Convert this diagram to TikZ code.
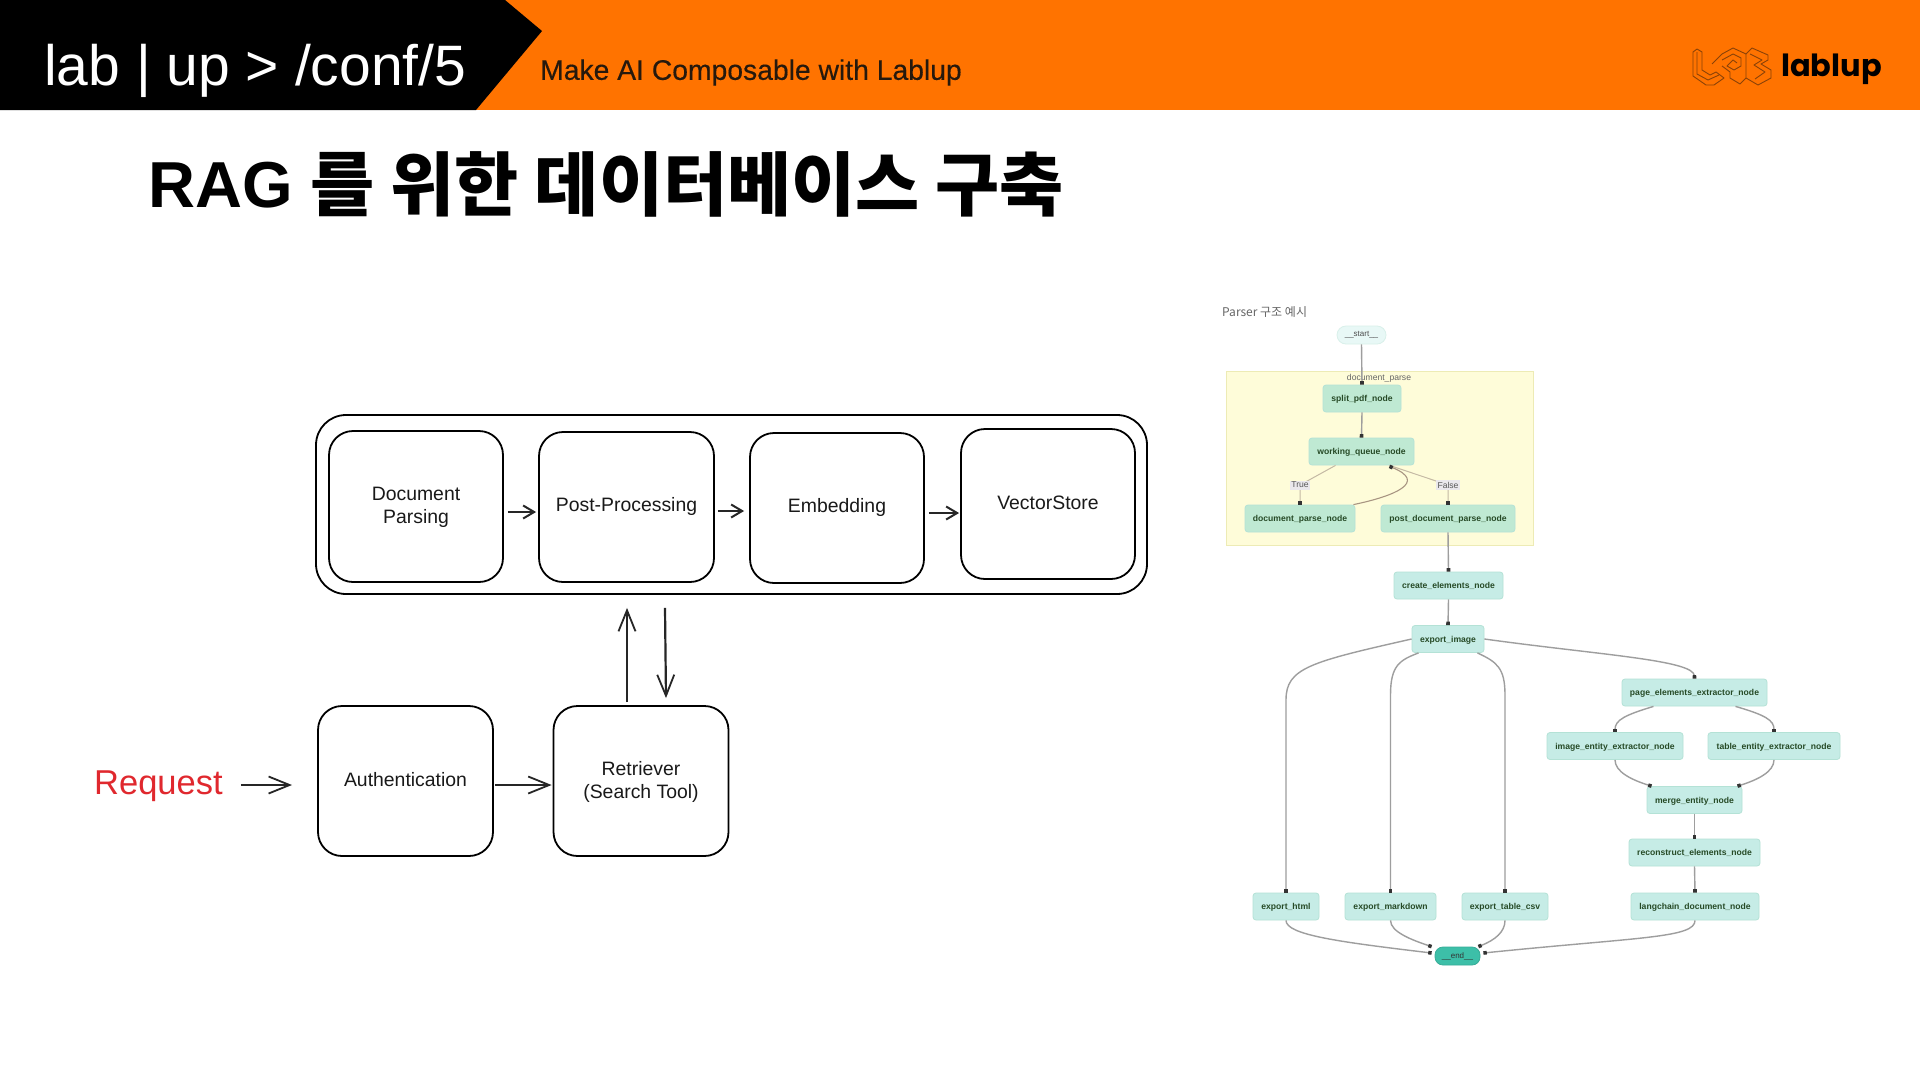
\documentclass[tikz,border=0pt]{standalone}
\usepackage{fontspec}
\setmainfont{Liberation Sans}
\newfontfamily\krfont{Noto Sans CJK KR}
\newfontfamily\krbold{Noto Sans CJK KR Bold}
\newfontfamily\logofont{Poppins}
\usetikzlibrary{arrows.meta,calc}
\definecolor{bannerorange}{HTML}{FF7300}
\definecolor{nodegreen}{HTML}{BFE9D3}
\definecolor{nodeteal}{HTML}{C6ECE6}
\definecolor{nodeedge}{HTML}{B4E2D6}
\definecolor{startfill}{HTML}{E8F8F6}
\definecolor{endfill}{HTML}{3DBFA8}
\definecolor{paneyellow}{HTML}{FEFCD9}
\definecolor{paneedge}{HTML}{EDEBB5}
\definecolor{flowgrey}{HTML}{9E9E9E}
\definecolor{labelgrey}{HTML}{EAE8EC}
\definecolor{reqred}{HTML}{E0282E}
\definecolor{logoline}{HTML}{8A4208}
\tikzset{
  sk/.style={draw=black,line width=1.8pt,rounded corners=24pt,fill=white,inner sep=0pt},
  sktext/.style={font=\fontsize{19.4}{23}\selectfont,align=center,inner sep=0pt,text=black!90},
  skshort/.style={draw=black!85,line width=2.4pt,-{Straight Barb[length=11pt,width=13pt,line width=2pt]}},
  sklong/.style={draw=black!85,line width=2.2pt,-{Straight Barb[length=21pt,width=17pt,line width=1.8pt]}},
  pnode/.style={draw=nodeedge,line width=.8pt,rounded corners=3pt,inner sep=0pt,minimum height=27pt,text height=7pt,text depth=.8pt,font=\bfseries\fontsize{8.6}{10}\selectfont,text=black!80!green!70!gray},
  gn/.style={pnode,fill=nodegreen},
  tn/.style={pnode,fill=nodeteal},
  flow/.style={draw=flowgrey,line width=1.4pt,-{Square[length=3.4pt,width=3.6pt,black!80]}},
  flowlight/.style={draw=flowgrey!60!paneyellow!85!brown,line width=1pt,-{Square[length=3.4pt,width=3.6pt,black!80]}},
  cond/.style={fill=labelgrey,inner sep=1.5pt,font=\fontsize{8.6}{10}\selectfont,text=black!65},
  logostroke/.style={draw=logoline,line width=.9pt,line join=round},
}
\begin{document}
\begin{tikzpicture}[x=1pt,y=-1pt]
\useasboundingbox (0,0) rectangle (1920,1080);
\fill[white] (0,0) rectangle (1920,1080);
% banner
\fill[bannerorange] (0,0) rectangle (1920,110);
\fill[black] (0,0) -- (505,0) -- (542,31) -- (476,110) -- (0,110) -- cycle;
\node[anchor=base west,text=white,inner sep=0pt,font=\fontsize{57}{60}\selectfont] (brand) at (44,85) {lab | up > /conf/5};
\node[anchor=west,text=black!80!brown,inner sep=0pt,font=\fontsize{28.3}{30}\selectfont\addfontfeature{FakeBold=0.3}] (motto) at (540,72.5) {Make AI Composable with Lablup};
% logo
\draw[logostroke] (1693,52) -- (1697,49) -- (1702,52) -- (1702,70) -- (1710,75) -- (1716,72) -- (1724,78) -- (1714,85) -- (1706,85) -- (1693,76) -- cycle;
\draw[logostroke] (1697,52) -- (1697,74) -- (1708,80) -- (1719,75);
\draw[logostroke] (1712,64) -- (1722,54) -- (1733,48) -- (1746,54) -- (1746,78) -- (1740,84) -- (1730,78) -- (1730,72) -- (1722,66);
\draw[logostroke] (1722,60) -- (1733,54) -- (1741,58) -- (1741,66) -- (1734,70) -- (1727,66) -- (1733,60) -- (1737,63);
\draw[logostroke] (1746,54) -- (1752,48) -- (1768,55) -- (1768,60) -- (1761,64) -- (1771,70) -- (1771,78) -- (1758,85) -- (1746,78);
\draw[logostroke] (1750,54) -- (1762,60) -- (1754,65) -- (1765,72) -- (1755,79);
% brand name
\node[anchor=west,inner sep=0pt,text=black,font=\logofont\bfseries\fontsize{30.5}{33}\selectfont] (brandname) at (1781,69) {lablup};
% title
\node[anchor=base west,inner sep=0pt,font=\bfseries\fontsize{65}{70}\selectfont] (title) at (148,207) {RAG {\krbold\fontsize{69.7}{75}\selectfont\raisebox{-3pt}{를 위한 데이터베이스 구축}}};
% pipeline
\node[sk,rounded corners=30pt,minimum width=831pt,minimum height=179pt] (store) at (731.5,504.5) {};
\node[sk,minimum width=174pt,minimum height=151pt] (parse) at (416,506.5) {};
\node[sktext] (parsetxt) at (416,507.5) {Document\\Parsing};
\node[sk,minimum width=175pt,minimum height=150pt] (post) at (626.5,507) {};
\node[sktext] (posttxt) at (626.5,506) {Post-Processing};
\node[sk,minimum width=174pt,minimum height=150pt] (embed) at (837,508) {};
\node[sktext] (embedtxt) at (837,507.5) {Embedding};
\node[sk,minimum width=174pt,minimum height=150pt] (vector) at (1048,504) {};
\node[sktext] (vectortxt) at (1048,503) {VectorStore};
\draw[skshort] ($(parse.east)+(4,5.5)$) -- ($(post.west)+(-2,5)$);
\draw[skshort] ($(post.east)+(3,4)$) -- ($(embed.west)+(-5,3)$);
\draw[skshort] ($(embed.east)+(4,5)$) -- ($(vector.west)+(-1,9)$);
% lower row
\node[sk,minimum width=175pt,minimum height=150pt] (auth) at (405.5,781) {};
\node[sktext] (authtxt) at (405.5,780) {Authentication};
\node[sk,minimum width=175pt,minimum height=150pt] (retr) at (641,781) {};
\node[sktext] (retrtxt) at (641,781.5) {Retriever\\(Search Tool)};
\node[anchor=west,inner sep=0pt,text=reqred,font=\fontsize{34.5}{36}\selectfont] (req) at (94,786) {Request};
\coordinate (reqend) at (292,785);
\draw[sklong] ($(req.east)+(18,-1)$) -- (reqend);
\draw[sklong] ($(auth.east)+(1,4)$) -- ($(retr.west)+(-1,4)$);
\draw[sklong] ($(retr.north)+(-14,-3)$) -- ($(store.south)+(-104.5,13)$);
\draw[sklong] ($(store.south)+(-66.5,13)$) -- ($(retr.north)+(25,-7)$);
% parser graph
\node[anchor=west,inner sep=0pt,text=black!60,font=\krfont\fontsize{12}{13}\selectfont] (ptitle) at (1222,312) {Parser 구조 예시};
\node[draw=paneedge,fill=paneyellow,line width=1pt,inner sep=0pt,minimum width=307pt,minimum height=174pt] (pane) at (1379.5,458) {};
\node[inner sep=0pt,text=black!60,font=\fontsize{8.6}{10}\selectfont] (panelabel) at (1379,378) {document\_parse};
\node[draw=nodeedge!50,fill=startfill,line width=.8pt,rounded corners=9pt,inner sep=0pt,minimum width=49pt,minimum height=18pt,font=\fontsize{8}{10}\selectfont,text=black!70] (start) at (1361.5,335) {\_\_start\_\_};
\node[gn,minimum width=78pt] (split) at (1362,398.5) {split\_pdf\_node};
\node[gn,minimum width=105pt] (queue) at (1361.5,451.5) {working\_queue\_node};
\node[gn,minimum width=110pt] (docn) at (1300,518.5) {document\_parse\_node};
\node[gn,minimum width=134pt] (postn) at (1448,518.5) {post\_document\_parse\_node};
\node[tn,minimum width=109pt] (create) at (1448.5,585.5) {create\_elements\_node};
\node[tn,minimum width=72pt] (image) at (1448,639) {export\_image};
\node[tn,minimum width=145pt] (page) at (1694.5,692.5) {page\_elements\_extractor\_node};
\node[tn,minimum width=136pt] (imgent) at (1615,746) {image\_entity\_extractor\_node};
\node[tn,minimum width=132pt] (tabent) at (1774,746) {table\_entity\_extractor\_node};
\node[tn,minimum width=95pt] (merge) at (1694.5,800) {merge\_entity\_node};
\node[tn,minimum width=131pt] (recon) at (1694.5,852.5) {reconstruct\_elements\_node};
\node[tn,minimum width=128pt] (lang) at (1695,906.5) {langchain\_document\_node};
\node[tn,minimum width=66pt] (html) at (1286,906.5) {export\_html};
\node[tn,minimum width=91pt] (md) at (1390.5,906.5) {export\_markdown};
\node[tn,minimum width=86pt] (csv) at (1505,906.5) {export\_table\_csv};
\node[draw=endfill!90!black,fill=endfill,line width=.8pt,rounded corners=8pt,inner sep=0pt,minimum width=45pt,minimum height=18pt,font=\fontsize{8}{10}\selectfont,text=black!80] (endn) at (1457.5,956) {\_\_end\_\_};
\draw[flow] (start.south) -- (split.north);
\draw[flow] (split.south) -- (queue.north);
\draw[flowlight] ($(queue.south)+(-26,0)$) -- (1300,485) -- (docn.north);
\draw[flowlight] ($(queue.south)+(28,0)$) -- (1448,485) -- (postn.north);
\draw[draw=flowgrey!70!brown,line width=1.1pt,-{Square[length=3.4pt,width=3.6pt,black!80]}] ($(docn.north east)+(-2,0)$) .. controls (1395,496) and (1428,482) .. ($(queue.south)+(28,1)$);
\node[cond] (ctrue) at (1300,485) {True};
\node[cond] (cfalse) at (1448,485) {False};
\draw[flow] (postn.south) -- (create.north);
\draw[flow] (create.south) -- (image.north);
\draw[flow] (image.west) .. controls (1310,662) and (1286,668) .. (1286,700) -- (html.north);
\draw[flow] ($(image.south west)+(7,0)$) .. controls (1400,660) and (1390.5,665) .. (1390.5,695) -- (md.north);
\draw[flow] ($(image.south east)+(-7,0)$) .. controls (1497,662) and (1505,668) .. (1505,695) -- (csv.north);
\draw[flow] (image.east) .. controls (1600,655) and (1694,660) .. (page.north);
\draw[flow] ($(page.south)+(-41,0)$) .. controls (1625,715) and (1615,720) .. (imgent.north);
\draw[flow] ($(page.south)+(41,0)$) .. controls (1765,715) and (1774,720) .. (tabent.north);
\draw[flow] (imgent.south) .. controls (1615,772) and (1632,780) .. ($(merge.north)+(-43,0)$);
\draw[flow] (tabent.south) .. controls (1774,772) and (1757,780) .. ($(merge.north)+(43,0)$);
\draw[flow] (merge.south) -- (recon.north);
\draw[flow] (recon.south) -- (lang.north);
\draw[flow] (html.south) .. controls (1286,935) and (1340,942) .. ($(endn.west)+(-3,-3)$);
\draw[flow] (md.south) .. controls (1390.5,932) and (1412,940) .. ($(endn.north west)+(-3,0)$);
\draw[flow] (csv.south) .. controls (1505,932) and (1495,940) .. ($(endn.north east)+(-2,0)$);
\draw[flow] (lang.south) .. controls (1695,938) and (1640,937) .. ($(endn.east)+(3,-3)$);
\end{tikzpicture}
\end{document}
